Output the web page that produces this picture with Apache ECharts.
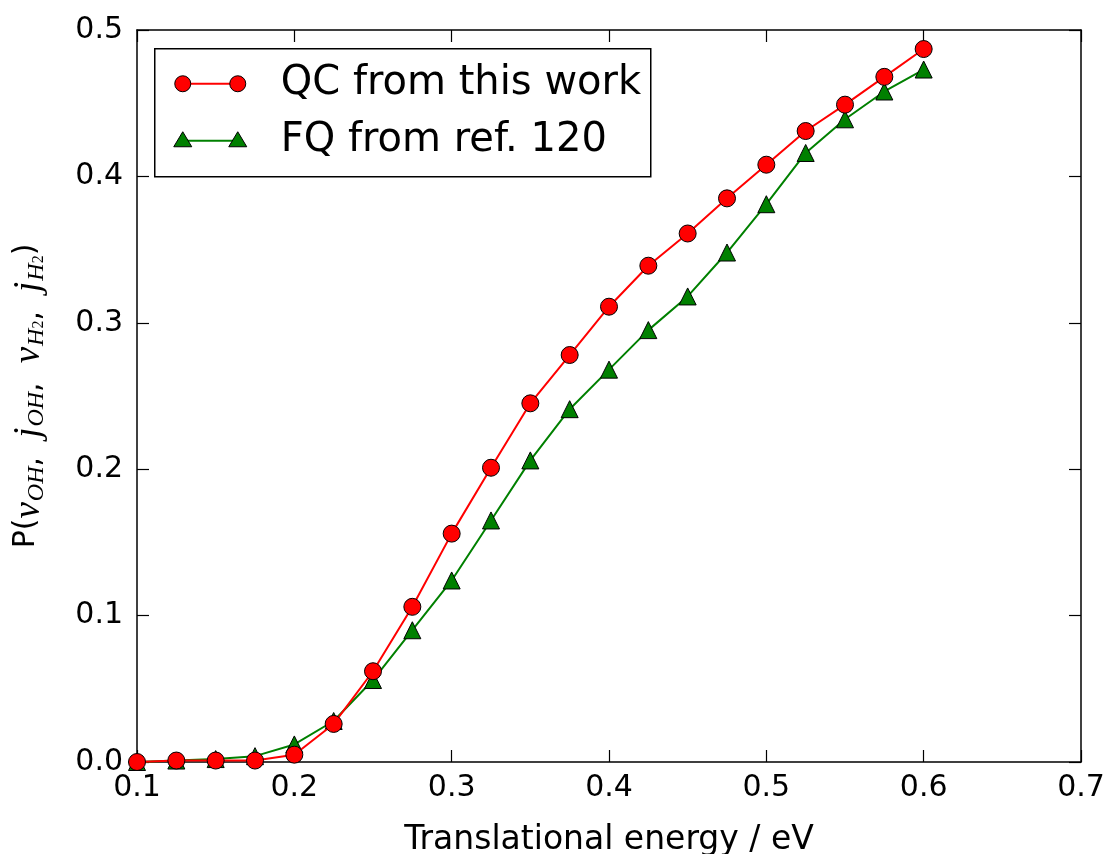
<!DOCTYPE html>
<html>
<head>
<meta charset="utf-8">
<script src="https://cdn.jsdelivr.net/npm/echarts@6/dist/echarts.min.js"></script>
<style>html,body{margin:0;padding:0;background:#fff}#c{width:1104px;height:854px}</style>
</head>
<body>
<div id="c"></div>
<script>
const energies = [0.100,0.125,0.150,0.175,0.200,0.225,0.250,0.275,0.300,0.325,0.350,0.375,0.400,0.425,0.450,0.475,0.500,0.525,0.550,0.575,0.600];
const qcValues = [0.000,0.001,0.001,0.001,0.005,0.026,0.062,0.106,0.156,0.201,0.245,0.278,0.311,0.339,0.361,0.385,0.408,0.431,0.449,0.468,0.487];
const fqValues = [0.000,0.001,0.002,0.004,0.012,0.028,0.056,0.090,0.124,0.165,0.206,0.241,0.268,0.295,0.318,0.348,0.381,0.416,0.439,0.458,0.473];
const xTicks = [0.1,0.2,0.3,0.4,0.5,0.6,0.7];
const yTicks = [0.0,0.1,0.2,0.3,0.4,0.5];
const seriesNames = ['QC from this work','FQ from ref. 120'];
const xTitle = 'Translational energy / eV';

const FONT = 'DejaVu Sans';
const MATH = 'Liberation Serif';
const chart = echarts.init(document.getElementById('c'), null, {renderer:'canvas'});
const zip = (xs, ys) => xs.map((x,i)=>[x, ys[i]]);
const G = {left:137, right:23, top:30, bottom:92};

const axisCommon = {
  axisLine:{show:true,onZero:false,lineStyle:{color:'#000',width:1.5}},
  axisTick:{show:true,inside:true,length:12,lineStyle:{color:'#000',width:1.2}},
  splitLine:{show:false}
};
const rich = {
  n:{fontFamily:FONT,fontSize:30,color:'#000',lineHeight:40,verticalAlign:'top'},
  c:{fontFamily:FONT,fontSize:30,color:'#000',lineHeight:40,verticalAlign:'top',padding:[5,0,0,0]},
  i:{fontFamily:MATH,fontStyle:'italic',fontSize:37,color:'#000',lineHeight:40,verticalAlign:'top'},
  s:{fontFamily:MATH,fontStyle:'italic',fontSize:24,color:'#000',lineHeight:40,verticalAlign:'top',padding:[14,0,0,1]},
  ss:{fontFamily:MATH,fontSize:16,color:'#000',lineHeight:40,verticalAlign:'top',padding:[20,0,0,0]}
};
const SP = '\u00a0\u00a0';

const option = {
  animation:false,
  backgroundColor:'#fff',
  grid:{left:G.left,right:G.right,top:G.top,bottom:G.bottom,containLabel:false,outerBoundsMode:'none',show:false},
  xAxis:[
    Object.assign({type:'value',position:'bottom',min:xTicks[0],max:xTicks[xTicks.length-1],interval:0.1,
      name:xTitle,nameLocation:'middle',nameGap:62,
      nameTextStyle:{fontFamily:FONT,fontSize:33,color:'#000'},
      axisLabel:{fontFamily:FONT,fontSize:30,color:'#000',margin:11,formatter:v=>v.toFixed(1)}}, axisCommon),
    Object.assign({type:'value',position:'top',min:xTicks[0],max:xTicks[xTicks.length-1],interval:0.1,
      axisLabel:{show:false}}, axisCommon)
  ],
  yAxis:[
    Object.assign({type:'value',position:'left',min:yTicks[0],max:yTicks[yTicks.length-1],interval:0.1,
      name:'{n|P(}{i|v}{s|OH}{c|,'+SP+'}{i|j}{s|OH}{c|,'+SP+'}{i|v}{s|H}{ss|2}{c|,'+SP+'}{i|j}{s|H}{ss|2}{n|)}',
      nameLocation:'middle',nameRotate:90,nameGap:86,
      nameTextStyle:{rich:rich},
      axisLabel:{fontFamily:FONT,fontSize:30,color:'#000',margin:14,formatter:v=>v.toFixed(1)}}, axisCommon),
    Object.assign({type:'value',position:'right',min:yTicks[0],max:yTicks[yTicks.length-1],interval:0.1,
      axisLabel:{show:false}}, axisCommon)
  ],
  series:[
    {name:seriesNames[1],type:'line',data:zip(energies,fqValues),symbol:'triangle',symbolSize:17,
      lineStyle:{color:'#008000',width:2},itemStyle:{color:'#008000',borderColor:'#000',borderWidth:1},z:3},
    {name:seriesNames[0],type:'line',data:zip(energies,qcValues),symbol:'circle',symbolSize:17,
      lineStyle:{color:'#ff0000',width:2},itemStyle:{color:'#ff0000',borderColor:'#000',borderWidth:1},z:4}
  ],
  graphic:[{
    type:'group',left:154,top:48,
    children:[
      {type:'rect',shape:{x:0,y:0,width:496,height:128},style:{fill:'#fff',stroke:'#000',lineWidth:1.5}},
      {type:'line',shape:{x1:28,y1:35,x2:83,y2:35},style:{stroke:'#ff0000',lineWidth:2}},
      {type:'circle',shape:{cx:28,cy:35,r:8},style:{fill:'#ff0000',stroke:'#000',lineWidth:1}},
      {type:'circle',shape:{cx:83,cy:35,r:8},style:{fill:'#ff0000',stroke:'#000',lineWidth:1}},
      {type:'text',x:126,y:35,style:{text:seriesNames[0],fontFamily:FONT,fontSize:40,fill:'#000',verticalAlign:'middle'}},
      {type:'line',shape:{x1:28,y1:92,x2:83,y2:92},style:{stroke:'#008000',lineWidth:2}},
      {type:'polygon',shape:{points:[[28,83],[37,98],[19,98]]},style:{fill:'#008000',stroke:'#000',lineWidth:1}},
      {type:'polygon',shape:{points:[[83,83],[92,98],[74,98]]},style:{fill:'#008000',stroke:'#000',lineWidth:1}},
      {type:'text',x:126,y:92,style:{text:seriesNames[1],fontFamily:FONT,fontSize:40,fill:'#000',verticalAlign:'middle'}}
    ]
  }]
};
chart.setOption(option);
</script>
</body>
</html>
